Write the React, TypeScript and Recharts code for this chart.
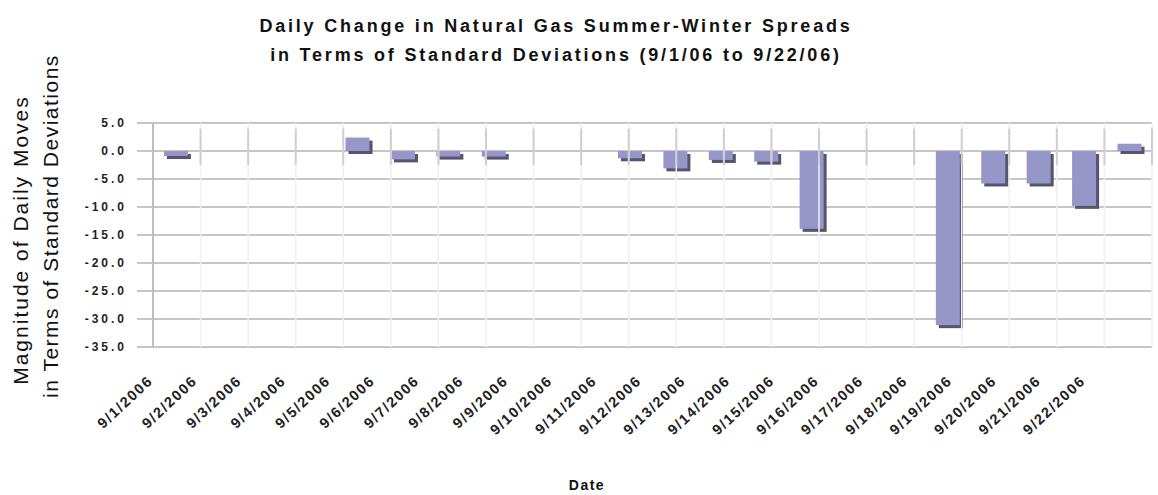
import React from 'react';
import { BarChart, Bar, XAxis, YAxis, CartesianGrid, ReferenceLine } from 'recharts';

const dates = [
  '9/1/2006', '9/2/2006', '9/3/2006', '9/4/2006', '9/5/2006', '9/6/2006',
  '9/7/2006', '9/8/2006', '9/9/2006', '9/10/2006', '9/11/2006', '9/12/2006',
  '9/13/2006', '9/14/2006', '9/15/2006', '9/16/2006', '9/17/2006', '9/18/2006',
  '9/19/2006', '9/20/2006', '9/21/2006', '9/22/2006',
];

// daily move in standard deviations (null = no trading day)
const moves = [
  -0.9, null, null, null, 2.4, -1.5,
  -1.0, -1.0, null, null, -1.3, -3.1,
  -1.6, -1.9, -13.9, null, null, -31.1,
  -5.8, -5.8, -9.8, 1.3,
];

const yTicks = [5, 0, -5, -10, -15, -20, -25, -30, -35];

const rows = dates.map((date, i) => ({ date, move: moves[i] }));
const boundaries = dates.map((_, i) => i).filter((i) => i > 0);

const FONT = '"Liberation Sans", Arial, sans-serif';

const ShadowBar = (props: any) => {
  const { x, y, width, height } = props;
  if (!height || isNaN(height)) return <g />;
  const top = Math.min(y, y + height);
  const h = Math.abs(height);
  return (
    <g>
      <rect x={x + 3} y={top + 3} width={width} height={h} fill="#555570" />
      <rect x={x} y={top} width={width} height={h} fill="#9696c9" />
    </g>
  );
};

const DateTick = (props: any) => {
  const { x, y, payload } = props;
  const idx = payload?.index ?? props.index ?? 0;
  const shift = -22 - idx * 1.0;
  return (
    <g transform={`translate(${x + shift},${y + 33})`}>
      <text
        textAnchor="end"
        transform="rotate(-43)"
        fontSize={14.5}
        fontWeight="bold"
        fill="#222"
        fontFamily={FONT}
        letterSpacing={1.6}
      >
        {payload.value}
      </text>
    </g>
  );
};

const yLabelLine = (text: string, cx: number, cy: number, ls: number) => (
  <div
    style={{
      position: 'absolute', left: cx - 200, top: cy - 15, width: 400, height: 30,
      textAlign: 'center', transform: 'rotate(-90deg)', fontSize: 21, lineHeight: '30px',
      letterSpacing: ls, color: '#111', whiteSpace: 'nowrap',
    }}
  >
    {text}
  </div>
);

export default function App() {
  return (
    <div style={{ position: 'absolute', left: 0, top: 0, width: 1158, height: 495, background: '#fff', fontFamily: FONT }}>
      <div
        style={{
          position: 'absolute', left: 256, top: 12, width: 600, textAlign: 'center',
          fontSize: 18, fontWeight: 'bold', lineHeight: '29px', letterSpacing: 2.8, color: '#111',
          whiteSpace: 'nowrap',
        }}
      >
        Daily Change in Natural Gas Summer-Winter Spreads
        <br />
        in Terms of Standard Deviations (9/1/06 to 9/22/06)
      </div>
      {yLabelLine('Magnitude of Daily Moves', 21, 240, 2)}
      {yLabelLine('in Terms of Standard Deviations', 51, 226, 1.5)}
      <div
        style={{
          position: 'absolute', left: 537, top: 477, width: 100, textAlign: 'center',
          fontSize: 14, fontWeight: 'bold', lineHeight: '16px', letterSpacing: 1.5, color: '#111',
        }}
      >
        Date
      </div>
      <BarChart
        width={1158}
        height={495}
        data={rows}
        margin={{ top: 123, right: 6, bottom: 48, left: 93 }}
        barCategoryGap="24%"
      >
        <CartesianGrid vertical={false} stroke="#c6c6c6" strokeWidth={2} />
        {boundaries.map((b) => (
          <ReferenceLine key={`g-${b}`} xAxisId="grid" x={b} stroke="#f0f0f0" strokeWidth={1.5} />
        ))}
        {boundaries.map((b) => (
          <ReferenceLine
            key={`t-${b}`}
            xAxisId="grid"
            segment={[{ x: b, y: 4 }, { x: b, y: -2.5 }]}
            stroke="#cfcfcf"
            strokeWidth={2}
          />
        ))}
        <XAxis
          dataKey="date"
          interval={0}
          tick={<DateTick />}
          tickLine={false}
          axisLine={false}
          tickSize={0}
          height={100}
        />
        <XAxis xAxisId="grid" type="number" domain={[0, dates.length]} allowDataOverflow hide />
        <YAxis
          domain={[-35, 5]}
          ticks={yTicks}
          interval={0}
          width={60}
          tickSize={16}
          tickMargin={10}
          tickLine={{ stroke: '#c6c6c6', strokeWidth: 2 }}
          axisLine={{ stroke: '#a8a8a8', strokeWidth: 1.5 }}
          tickFormatter={(v: number) => v.toFixed(1)}
          tick={{ fontSize: 12, fontWeight: 'bold', fill: '#222', fontFamily: FONT, letterSpacing: 3 }}
        />
        <Bar dataKey="move" shape={<ShadowBar />} isAnimationActive={false} />
      </BarChart>
    </div>
  );
}
